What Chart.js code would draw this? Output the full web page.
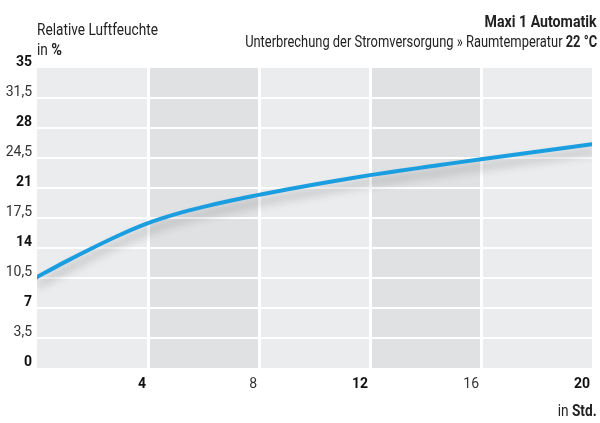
<!DOCTYPE html>
<html>
<head>
<meta charset="utf-8">
<script src="https://cdn.jsdelivr.net/npm/chart.js@4"></script>
<style>
  html, body { margin: 0; padding: 0; background: #fff; }
  #wrap { position: relative; width: 600px; height: 423px; overflow: hidden;
          font-family: Roboto, 'DejaVu Sans', sans-serif; color: #222; }
  #wrap canvas { position: absolute; left: 0; top: 0; }
  .t { position: absolute; white-space: nowrap; line-height: 16px; font-size: 16px; }
  .l { transform-origin: left center; }
  .r { transform-origin: right center; }
  b { font-weight: bold; }
</style>
</head>
<body>
<div id="wrap">
  <canvas id="c" width="600" height="423"></canvas>
  <div class="t l" data-w="121" style="left:37px; top:22px;">Relative Luftfeuchte</div>
  <div class="t l" data-w="25" style="left:37px; top:41px;">in <b style="font-size:17px">%</b></div>
  <div class="t r" data-w="112" style="right:3px; top:14px;"><b>Maxi 1 Automatik</b></div>
  <div class="t r" data-w="352" style="right:3px; top:34px;">Unterbrechung der Stromversorgung » Raumtemperatur <b>22 °C</b></div>
  <div class="t r" data-w="39" style="right:3px; top:403px;">in <b>Std.</b></div>
</div>
<script>
// ---- data ----
const hours = [0, 1, 2, 3, 4, 5, 6, 7, 8, 9, 10, 11, 12, 13, 14, 15, 16, 17, 18, 19, 20];
const humidity = [10.6, 12.35, 14.0, 15.55, 16.9, 17.95, 18.8, 19.55, 20.2, 20.83, 21.41, 21.96, 22.5, 22.98, 23.44, 23.9, 24.35, 24.79, 25.23, 25.67, 26.11];
const xTicks = [4, 8, 12, 16, 20];
const xBoldTicks = [4, 12, 20];
const yTicks = [0, 3.5, 7, 10.5, 14, 17.5, 21, 24.5, 28, 31.5, 35];
const yBoldTicks = [0, 7, 14, 21, 28, 35];
const bandEdges = [0, 4, 8, 12, 16, 20];

// condense the header texts to the reference widths
document.querySelectorAll('[data-w]').forEach(el => {
  const w = el.getBoundingClientRect().width;
  el.style.transform = 'scaleX(' + (parseFloat(el.dataset.w) / w) + ')';
});

const FONT = "Roboto, 'DejaVu Sans', sans-serif";
const LIGHT = '#ebeced';
const DARK = '#e0e1e3';
const tv = ctx => (ctx && ctx.tick) ? ctx.tick.value : null;

const bandsPlugin = {
  id: 'bands',
  beforeDraw(chart) {
    const { ctx, chartArea, scales } = chart;
    ctx.save();
    for (let i = 0; i < bandEdges.length - 1; i++) {
      const x0 = scales.x.getPixelForValue(bandEdges[i]);
      const x1 = scales.x.getPixelForValue(bandEdges[i + 1]);
      ctx.fillStyle = i % 2 === 0 ? LIGHT : DARK;
      ctx.fillRect(x0, chartArea.top, x1 - x0, chartArea.bottom - chartArea.top);
    }
    ctx.restore();
  }
};

const shadowPlugin = {
  id: 'lineShadow',
  beforeDatasetDraw(chart) {
    const ctx = chart.ctx;
    ctx.save();
    ctx.shadowColor = 'rgba(0,0,0,0.28)';
    ctx.shadowBlur = 10;
    ctx.shadowOffsetX = 2;
    ctx.shadowOffsetY = 7;
  },
  afterDatasetDraw(chart) {
    chart.ctx.restore();
  }
};

new Chart(document.getElementById('c'), {
  type: 'line',
  data: {
    datasets: [{
      data: hours.map((h, i) => ({ x: h, y: humidity[i] })),
      borderColor: '#1a9ee0',
      borderWidth: 4,
      pointRadius: 0,
      fill: false,
      cubicInterpolationMode: 'monotone',
      borderCapStyle: 'round'
    }]
  },
  options: {
    responsive: false,
    animation: false,
    devicePixelRatio: 1,
    layout: { padding: { top: 68, right: 3, left: 0, bottom: 0 } },
    plugins: { legend: { display: false }, tooltip: { enabled: false } },
    scales: {
      x: {
        type: 'linear',
        min: 0, max: 20,
        afterFit(s) { s.height = 55; },
        afterBuildTicks(s) { s.ticks = [0].concat(xTicks).map(v => ({ value: v })); },
        border: { display: false },
        grid: {
          color: ctx => (tv(ctx) === 0 || tv(ctx) === 20) ? 'rgba(0,0,0,0)' : '#ffffff',
          lineWidth: 3,
          drawTicks: false
        },
        ticks: {
          align: 'end',
          labelOffset: -2,
          padding: 8,
          maxRotation: 0,
          autoSkip: false,
          color: ctx => xBoldTicks.includes(tv(ctx)) ? '#111' : '#333',
          font: ctx => ({ family: FONT, size: 14, weight: xBoldTicks.includes(tv(ctx)) ? 'bold' : 'normal' }),
          callback: v => v === 0 ? '' : String(v)
        }
      },
      y: {
        min: 0, max: 35,
        afterFit(s) { s.width = 37; },
        afterBuildTicks(s) { s.ticks = yTicks.map(v => ({ value: v })); },
        border: { display: false },
        grid: {
          color: ctx => (tv(ctx) === 0 || tv(ctx) === 35) ? 'rgba(0,0,0,0)' : '#ffffff',
          lineWidth: 2,
          drawTicks: false
        },
        ticks: {
          padding: 5,
          labelOffset: -6,
          autoSkip: false,
          color: ctx => yBoldTicks.includes(tv(ctx)) ? '#111' : '#333',
          font: ctx => ({ family: FONT, size: 14, weight: yBoldTicks.includes(tv(ctx)) ? 'bold' : 'normal' }),
          callback: v => String(v).replace('.', ',')
        }
      }
    }
  },
  plugins: [bandsPlugin, shadowPlugin]
});
</script>
</body>
</html>
